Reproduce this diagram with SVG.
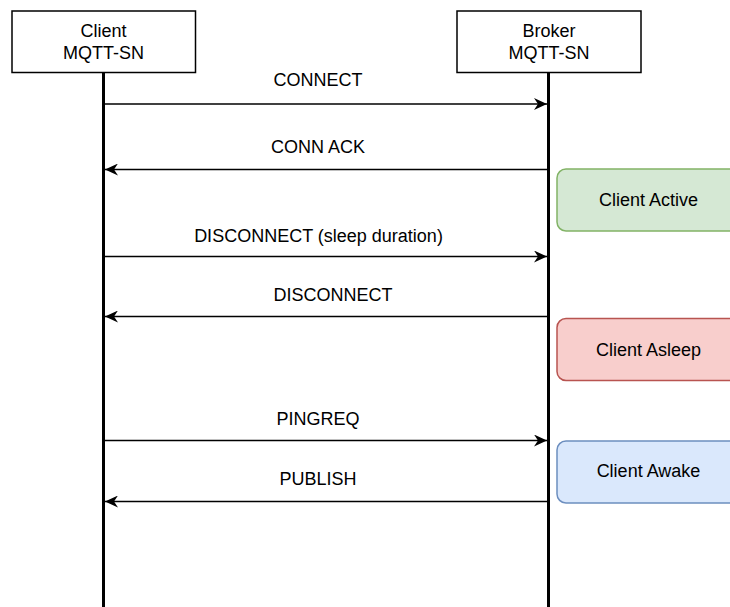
<svg xmlns="http://www.w3.org/2000/svg" width="730" height="607" viewBox="0 0 730 607">
  <style>
    .lbl { font-family: "Liberation Sans", Arial, sans-serif; font-size: 18px; fill: #000; text-anchor: middle; }
    .actor { fill: #fff; stroke: #000; stroke-width: 1.5; }
    .life { stroke: #000; stroke-width: 3; fill: none; }
    .msg { stroke: #000; stroke-width: 1.5; fill: none; marker-end: url(#arrow); }
    .active { fill: #d5e8d4; stroke: #82b366; stroke-width: 1.5; }
    .asleep { fill: #f8cecc; stroke: #b85450; stroke-width: 1.5; }
    .awake { fill: #dae8fc; stroke: #6c8ebf; stroke-width: 1.5; }
  </style>
  <defs>
    <marker id="arrow" viewBox="0 0 13 12" refX="13" refY="6" markerWidth="13" markerHeight="12" markerUnits="userSpaceOnUse" orient="auto">
      <path d="M0,0 L13,6 L0,12 L4,6 Z" fill="#000"/>
    </marker>
  </defs>
  <rect width="730" height="607" fill="#fff"/>

  <!-- lifelines -->
  <g id="lifelines">
    <line class="life" x1="103.5" y1="72" x2="103.5" y2="607"/>
    <line class="life" x1="548.5" y1="72" x2="548.5" y2="607"/>
  </g>

  <!-- participants -->
  <g id="client">
    <rect class="actor" x="12" y="11" width="183.5" height="61.5"/>
    <text class="lbl" x="103.5" y="37">Client</text>
    <text class="lbl" x="103.5" y="58.5">MQTT-SN</text>
  </g>
  <g id="broker">
    <rect class="actor" x="457" y="11" width="184" height="61.5"/>
    <text class="lbl" x="549" y="37">Broker</text>
    <text class="lbl" x="549" y="58.5">MQTT-SN</text>
  </g>

  <!-- client state boxes -->
  <g id="state-active">
    <rect class="active" x="557" y="169" width="184" height="62" rx="9" ry="9"/>
    <text class="lbl" x="648.5" y="206">Client Active</text>
  </g>
  <g id="state-asleep">
    <rect class="asleep" x="557" y="318.5" width="184" height="62" rx="9" ry="9"/>
    <text class="lbl" x="648.5" y="355.5">Client Asleep</text>
  </g>
  <g id="state-awake">
    <rect class="awake" x="557" y="441" width="184" height="62" rx="9" ry="9"/>
    <text class="lbl" x="648.5" y="477">Client Awake</text>
  </g>

  <!-- messages -->
  <g id="connectors">
    <line class="msg" x1="105" y1="104" x2="547" y2="104"/>
    <line class="msg" x1="547" y1="169.5" x2="105" y2="169.5"/>
    <line class="msg" x1="105" y1="256.5" x2="547" y2="256.5"/>
    <line class="msg" x1="547" y1="316.5" x2="105" y2="316.5"/>
    <line class="msg" x1="105" y1="440.5" x2="547" y2="440.5"/>
    <line class="msg" x1="547" y1="501.5" x2="105" y2="501.5"/>
  </g>
  <g id="message-labels">
    <text class="lbl" x="318" y="86">CONNECT</text>
    <text class="lbl" x="318" y="152.5">CONN ACK</text>
    <text class="lbl" x="318.5" y="241.5">DISCONNECT (sleep duration)</text>
    <text class="lbl" x="333" y="300.5">DISCONNECT</text>
    <text class="lbl" x="318" y="424.5">PINGREQ</text>
    <text class="lbl" x="318" y="485">PUBLISH</text>
  </g>
</svg>
